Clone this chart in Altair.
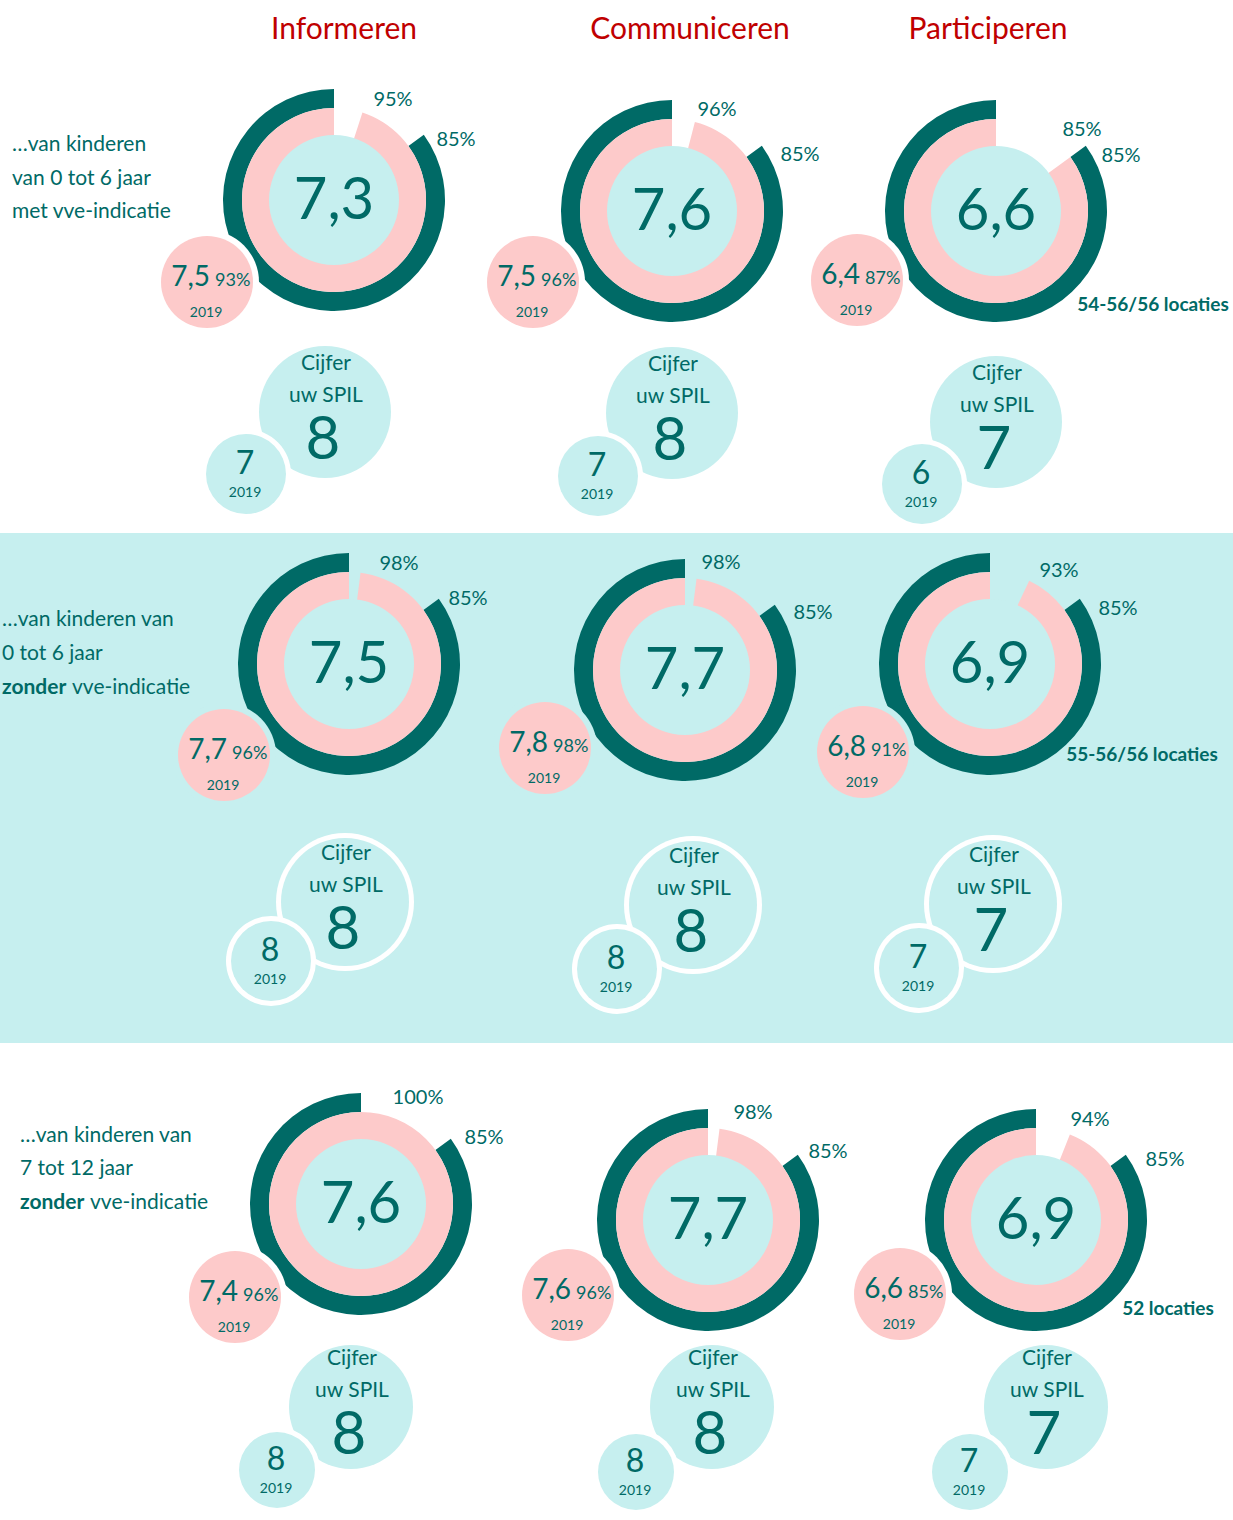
import math
import altair as alt
import pandas as pd

W, H = 1233, 1520

# ---------------- data ----------------
columns = ["Informeren", "Communiceren", "Participeren"]
row_labels = [
    [["…van kinderen"], ["van 0 tot 6 jaar"], ["met vve-indicatie"]],
    [["…van kinderen van"], ["0 tot 6 jaar"], ["zonder", "vve-indicatie"]],
    [["…van kinderen van"], ["7 tot 12 jaar"], ["zonder", "vve-indicatie"]],
]
scores = [[7.3, 7.6, 6.6], [7.5, 7.7, 6.9], [7.6, 7.7, 6.9]]
reach = [[95, 96, 85], [98, 98, 93], [100, 98, 94]]
norm = [[85, 85, 85], [85, 85, 85], [85, 85, 85]]
scores_2019 = [[7.5, 7.5, 6.4], [7.7, 7.8, 6.8], [7.4, 7.6, 6.6]]
reach_2019 = [[93, 96, 87], [96, 98, 91], [96, 96, 85]]
spil = [[8, 8, 7], [8, 8, 7], [8, 8, 7]]
spil_2019 = [[7, 7, 6], [8, 8, 7], [8, 8, 7]]
locaties = ["54-56/56 locaties", "55-56/56 locaties", "52 locaties"]
year_label = "2019"

# ---------------- layout ----------------
HEADER_X = [344, 690, 988]
HEADER_Y = 30
LABEL_X = [12, 2, 20]
LABEL_Y = [[145, 179, 212], [620, 654, 688], [1136, 1169, 1203]]
BOLD_GAP = [0, 70, 70]
BAND = (533, 1043)
DONUT = [[(334, 200), (672, 211), (996, 211)],
         [(349, 664), (685, 670), (990, 664)],
         [(361, 1204), (708, 1220), (1036, 1220)]]
PINK = [[(207, 282), (533, 282), (857, 280)],
        [(224, 755), (545, 748), (863, 752)],
        [(235, 1297), (568, 1295), (900, 1294)]]
PCT_LABEL = [[(393, 100), (717, 110), (1082, 130)],
             [(399, 564), (721, 563), (1059, 571)],
             [(418, 1098), (753, 1113), (1090, 1120)]]
NORM_LABEL = [[(456, 140), (800, 155), (1121, 156)],
              [(468, 599), (813, 613), (1118, 609)],
              [(484, 1138), (828, 1152), (1165, 1160)]]
LOC_LABEL = [(1153, 305), (1142, 755), (1168, 1309)]
BIG = [[(325, 412), (672, 413), (996, 422)],
       [(345, 902), (693, 905), (993, 904)],
       [(351, 1407), (712, 1407), (1046, 1407)]]
SMALL = [[(246, 474), (598, 476), (922, 484)],
         [(271, 961), (617, 969), (919, 968)],
         [(277, 1470), (636, 1472), (970, 1472)]]
BIG_R = [66, 64, 62]
SMALL_R = [40, 40, 38]
R_OUT, R_MID, R_IN = 111, 92, 65
PINK_R = 46

TEAL = "#006A66"
PINK_C = "#FDCACA"
CYAN = "#C6EFEF"
RED = "#C00000"
WHITE = "#FFFFFF"
FONT = "Lato"

def fmt(v):
    return f"{v:.1f}".replace(".", ",")

def area(r):
    # Vega circle symbol: radius = sqrt(size) / 2
    return (2 * r) ** 2

xs = alt.Scale(domain=[0, W], nice=False, zero=False)
ys = alt.Scale(domain=[0, H], nice=False, zero=False, reverse=True)
X = lambda f="x": alt.X(f"{f}:Q", scale=xs, axis=None)
Y = lambda f="y": alt.Y(f"{f}:Q", scale=ys, axis=None)

layers = []

# background band
band = pd.DataFrame([{"x": 0, "x2": W, "y": BAND[0], "y2": BAND[1]}])
layers.append(alt.Chart(band).mark_rect(color=CYAN).encode(
    x=X(), x2="x2:Q", y=Y(), y2="y2:Q"))

# arcs
dark_rows, pink_rows = [], []
for r in range(3):
    for c in range(3):
        cx, cy = DONUT[r][c]
        dark_rows.append({"x": cx, "y": cy, "t0": 1 - norm[r][c] / 100, "t1": 1})
        pink_rows.append({"x": cx, "y": cy, "t0": 1 - reach[r][c] / 100, "t1": 1})

theta_scale = alt.Scale(domain=[0, 1], range=[0, 2 * math.pi])
for rows, col, ro, ri in [(dark_rows, TEAL, R_OUT, R_MID), (pink_rows, PINK_C, R_MID, R_IN - 1)]:
    layers.append(alt.Chart(pd.DataFrame(rows)).mark_arc(
        color=col, radius=ro, radius2=ri, stroke=None).encode(
        x=X(), y=Y(),
        theta=alt.Theta("t0:Q", scale=theta_scale, stack=None),
        theta2="t1:Q"))

# circles
circ = []
for r in range(3):
    bg = CYAN if r == 1 else WHITE
    for c in range(3):
        cx, cy = DONUT[r][c]
        circ.append({"x": cx, "y": cy, "s": area(R_IN), "c": CYAN, "o": 0})
        px, py = PINK[r][c]
        circ.append({"x": px, "y": py, "s": area(PINK_R + 6), "c": bg, "o": 1})
        circ.append({"x": px, "y": py, "s": area(PINK_R), "c": PINK_C, "o": 2})
        bx, by = BIG[r][c]
        circ.append({"x": bx, "y": by, "s": area(BIG_R[r] + 5), "c": WHITE, "o": 3})
        circ.append({"x": bx, "y": by, "s": area(BIG_R[r]), "c": CYAN, "o": 4})
        sx, sy = SMALL[r][c]
        circ.append({"x": sx, "y": sy, "s": area(SMALL_R[r] + 5), "c": WHITE, "o": 5})
        circ.append({"x": sx, "y": sy, "s": area(SMALL_R[r]), "c": CYAN, "o": 6})
circ_df = pd.DataFrame(circ)
for o in range(7):
    layers.append(alt.Chart(circ_df[circ_df.o == o]).mark_circle(opacity=1, stroke=None).encode(
        x=X(), y=Y(),
        size=alt.Size("s:Q", scale=None),
        color=alt.Color("c:N", scale=None)))

# texts
def text_layer(rows, size, align="center", weight="normal", color=TEAL, baseline="middle"):
    return alt.Chart(pd.DataFrame(rows)).mark_text(
        font=FONT, fontSize=size, align=align, fontWeight=weight,
        color=color, baseline=baseline).encode(x=X(), y=Y(), text="t:N")

layers.append(text_layer([{"x": HEADER_X[i], "y": HEADER_Y, "t": columns[i]} for i in range(3)], 30, color=RED))

lab_norm, lab_bold = [], []
for r in range(3):
    for i, parts in enumerate(row_labels[r]):
        if len(parts) == 1:
            lab_norm.append({"x": LABEL_X[r], "y": LABEL_Y[r][i], "t": parts[0]})
        else:
            lab_bold.append({"x": LABEL_X[r], "y": LABEL_Y[r][i], "t": parts[0]})
            lab_norm.append({"x": LABEL_X[r] + BOLD_GAP[r], "y": LABEL_Y[r][i], "t": parts[1]})
layers.append(text_layer(lab_norm, 21, align="left"))
layers.append(text_layer(lab_bold, 21, align="left", weight="bold"))

center_t, pct_t, s19, p19, yr, cij, spil_big, spil_small = [], [], [], [], [], [], [], []
for r in range(3):
    for c in range(3):
        cx, cy = DONUT[r][c]
        center_t.append({"x": cx, "y": cy + 2, "t": fmt(scores[r][c])})
        lx, ly = PCT_LABEL[r][c]
        pct_t.append({"x": lx, "y": ly, "t": f"{reach[r][c]}%"})
        nx, ny = NORM_LABEL[r][c]
        pct_t.append({"x": nx, "y": ny, "t": f"{norm[r][c]}%"})
        px, py = PINK[r][c]
        s19.append({"x": px + 3, "y": py - 4, "t": fmt(scores_2019[r][c])})
        p19.append({"x": px + 8, "y": py - 1, "t": f"{reach_2019[r][c]}%"})
        yr.append({"x": px - 1, "y": py + 31, "t": year_label})
        bx, by = BIG[r][c]
        cij.append({"x": bx + 1, "y": by - 48, "t": "Cijfer"})
        cij.append({"x": bx + 1, "y": by - 16, "t": "uw SPIL"})
        spil_big.append({"x": bx - 2, "y": by + 29, "t": str(spil[r][c])})
        sx, sy = SMALL[r][c]
        spil_small.append({"x": sx - 1, "y": sy - 10, "t": str(spil_2019[r][c])})
        yr.append({"x": sx - 1, "y": sy + 19, "t": year_label})

layers.append(text_layer(center_t, 58))
layers.append(text_layer(pct_t, 20))
layers.append(text_layer(s19, 28, align="right"))
layers.append(text_layer(p19, 18, align="left"))
layers.append(text_layer(yr, 14))
layers.append(text_layer(cij, 21))
layers.append(text_layer(spil_big, 60))
layers.append(text_layer(spil_small, 32))
layers.append(text_layer([{"x": LOC_LABEL[i][0], "y": LOC_LABEL[i][1], "t": locaties[i]} for i in range(3)],
                         19, weight="bold"))

chart = alt.layer(*layers).properties(
    width=W, height=H, padding=0, autosize="none", background=WHITE
).configure_view(stroke=None)

chart.save("out.html", embed_options={"renderer": "svg", "actions": False})
